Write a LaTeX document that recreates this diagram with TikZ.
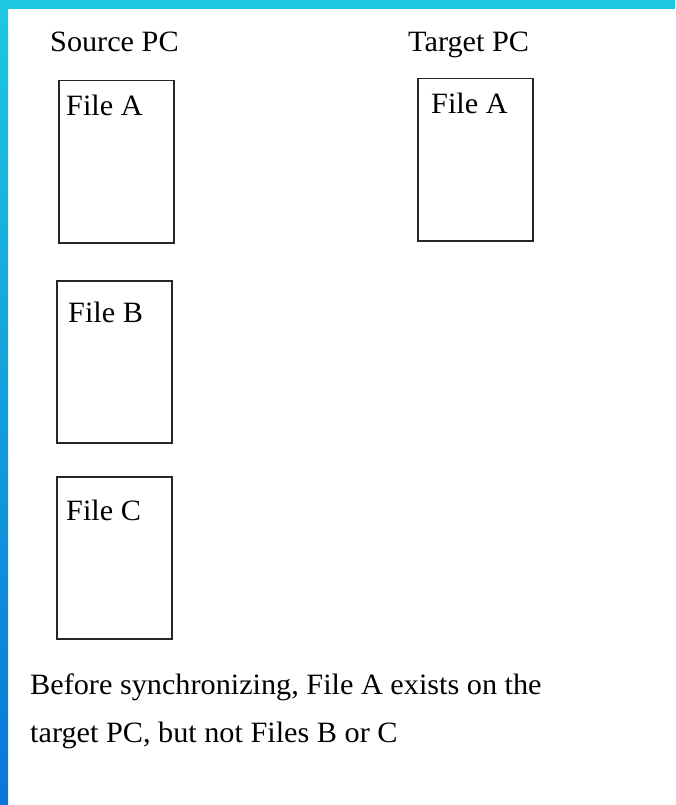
\documentclass[tikz,border=0pt]{standalone}
\usepackage{fontspec}
\setmainfont[FakeStretch=1.025]{Liberation Serif}
\definecolor{topc}{HTML}{1EC8E0}
\definecolor{botc}{HTML}{0A76D8}
\tikzset{
  filebox/.style={draw=black!85, line width=1.5pt, minimum width=115pt, minimum height=162pt, anchor=north west, inner sep=0pt},
  lbl/.style={font=\fontsize{29.5}{34}\selectfont, inner sep=0pt, anchor=base west}
}
\begin{document}
\begin{tikzpicture}[x=1pt,y=-1pt]
\useasboundingbox (0,0) rectangle (675,805);
\fill[white] (0,0) rectangle (675,805);
\shade[top color=topc, bottom color=botc] (0,0) rectangle (8,805);
\fill[topc] (0,0) rectangle (675,9);
\node[lbl] (src) at (50,52) {Source PC};
\node[lbl] (tgt) at (408,52) {Target PC};
\node[filebox] (fa) at (58,80) {};
\node[filebox] (fb) at (56,280) {};
\node[filebox] (fc) at (56,476) {};
\node[filebox] (ta) at (417,78) {};
\node[lbl] (fat) at (66,116) {File A};
\node[lbl] (fbt) at (68,322) {File B};
\node[lbl] (fct) at (66,520) {File C};
\node[lbl] (tat) at (431,114) {File A};
\node[lbl] (l1) at (30,694) {Before synchronizing, File A exists on the};
\node[lbl] (l2) at (30,742) {target PC, but not Files B or C};
\end{tikzpicture}
\end{document}
